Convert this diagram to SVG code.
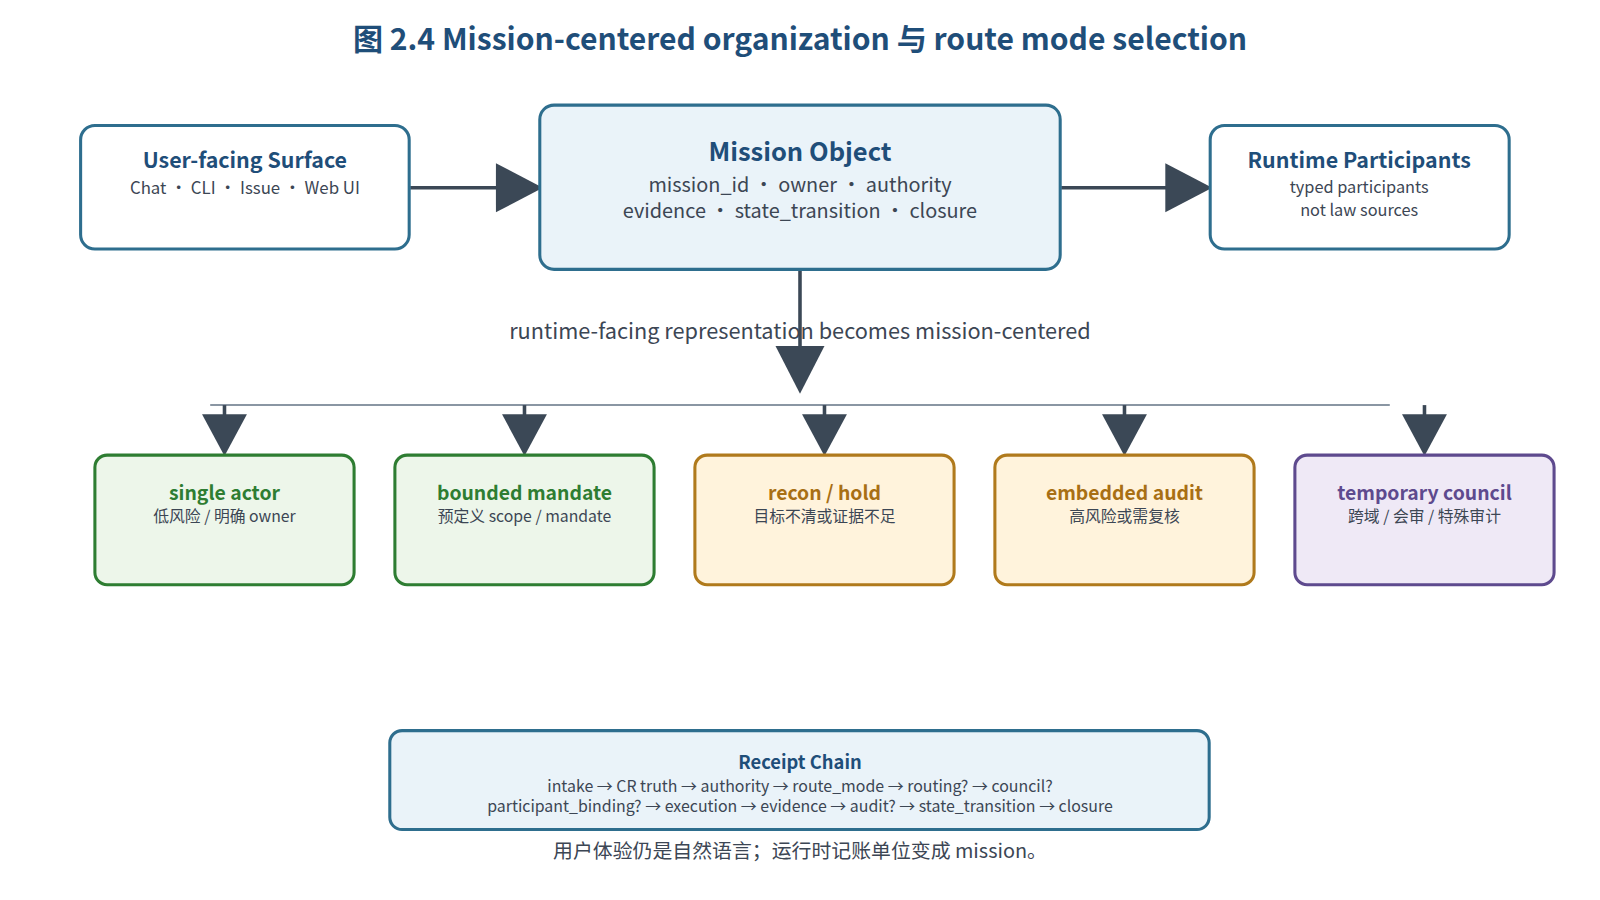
<svg xmlns="http://www.w3.org/2000/svg" width="1600" height="900" viewBox="0 0 1600 900">
<style>
text{font-family:"Noto Sans CJK SC","Noto Sans",sans-serif;text-anchor:middle}
.t{font-weight:700;fill:#1f4e79}
.s{fill:#3c4654}
.blue{fill:#eaf3f9;stroke:#2e6e8e;stroke-width:3}
.green{fill:#edf6ea;stroke:#2e7d32;stroke-width:3}
.amber{fill:#fff3dc;stroke:#b07a1c;stroke-width:3}
.purple{fill:#efe9f6;stroke:#5e4a8e;stroke-width:3}
.ln{stroke:#3b4856;stroke-width:3.5;fill:none}
.ah{fill:#3b4856}
</style>
<rect width="1600" height="900" fill="#fff"/>
<g transform="scale(1.0204)">
<text x="784" y="49" font-size="29.5" class="t">图 2.4 Mission-centered organization 与 route mode selection</text>
<g id="connectors">
<line class="ln" x1="402" y1="184" x2="490" y2="184"/><polygon class="ah" points="486,160 532,184 486,208"/>
<line class="ln" x1="1040" y1="184" x2="1146" y2="184"/><polygon class="ah" points="1142,160 1188,184 1142,208"/>
<line class="ln" x1="784" y1="265" x2="784" y2="342"/><polygon class="ah" points="760,339 808,339 784,386"/>
<line x1="206" y1="397" x2="1362" y2="397" stroke="#8a96a3" stroke-width="2"/>
<g>
<line class="ln" x1="220" y1="397" x2="220" y2="410"/><polygon class="ah" points="198,406 242,406 220,447"/>
<line class="ln" x1="514" y1="397" x2="514" y2="410"/><polygon class="ah" points="492,406 536,406 514,447"/>
<line class="ln" x1="808" y1="397" x2="808" y2="410"/><polygon class="ah" points="786,406 830,406 808,447"/>
<line class="ln" x1="1102" y1="397" x2="1102" y2="410"/><polygon class="ah" points="1080,406 1124,406 1102,447"/>
<line class="ln" x1="1396" y1="397" x2="1396" y2="410"/><polygon class="ah" points="1374,406 1418,406 1396,447"/>
</g>
<text x="784" y="332" font-size="21.3" class="s">runtime-facing representation becomes mission-centered</text>
</g>
<g id="surface"><rect class="blue" x="79" y="123" width="322" height="121" rx="14" style="fill:#fff"/>
<text x="240" y="165" font-size="21" class="t">User-facing Surface</text>
<text x="240" y="190" font-size="16.5" class="s">Chat  •  CLI  •  Issue  •  Web UI</text></g>
<g id="mission"><rect class="blue" x="529" y="103" width="510" height="161" rx="14"/>
<text x="784" y="158" font-size="25" class="t">Mission Object</text>
<text x="784" y="188" font-size="19.5" class="s">mission_id  •  owner  •  authority</text>
<text x="784" y="214" font-size="19.5" class="s">evidence  •  state_transition  •  closure</text></g>
<g id="participants"><rect class="blue" x="1186" y="123" width="293" height="121" rx="14" style="fill:#fff"/>
<text x="1332" y="165" font-size="21" class="t">Runtime Participants</text>
<text x="1332" y="189.5" font-size="16" class="s">typed participants</text>
<text x="1332" y="211.5" font-size="16" class="s">not law sources</text></g>
<g id="single"><rect class="green" x="93" y="446" width="254" height="127" rx="12"/>
<text x="220" y="490" font-size="19" font-weight="700" fill="#2e7d32">single actor</text>
<text x="220" y="512" font-size="15.5" class="s">低风险 / 明确 owner</text></g>
<g id="bounded"><rect class="green" x="387" y="446" width="254" height="127" rx="12"/>
<text x="514" y="490" font-size="19" font-weight="700" fill="#2e7d32">bounded mandate</text>
<text x="514" y="512" font-size="15.5" class="s">预定义 scope / mandate</text></g>
<g id="recon"><rect class="amber" x="681" y="446" width="254" height="127" rx="12"/>
<text x="808" y="490" font-size="19" font-weight="700" fill="#a86f14">recon / hold</text>
<text x="808" y="512" font-size="15.5" class="s">目标不清或证据不足</text></g>
<g id="audit"><rect class="amber" x="975" y="446" width="254" height="127" rx="12"/>
<text x="1102" y="490" font-size="19" font-weight="700" fill="#a86f14">embedded audit</text>
<text x="1102" y="512" font-size="15.5" class="s">高风险或需复核</text></g>
<g id="council"><rect class="purple" x="1269" y="446" width="254" height="127" rx="12"/>
<text x="1396" y="490" font-size="19" font-weight="700" fill="#5e4a8e">temporary council</text>
<text x="1396" y="512" font-size="15.5" class="s">跨域 / 会审 / 特殊审计</text></g>
<g id="receipt"><rect class="blue" x="382" y="716" width="803" height="97" rx="12"/>
<text x="784" y="754" font-size="18" class="t">Receipt Chain</text>
<text x="784" y="776" font-size="15.6" class="s">intake → CR truth → authority → route_mode → routing? → council?</text>
<text x="784" y="796" font-size="15.6" class="s">participant_binding? → execution → evidence → audit? → state_transition → closure</text></g>
<text x="784" y="841" font-size="19.5" class="s">用户体验仍是自然语言；运行时记账单位变成 mission。</text>
</g>
</svg>
